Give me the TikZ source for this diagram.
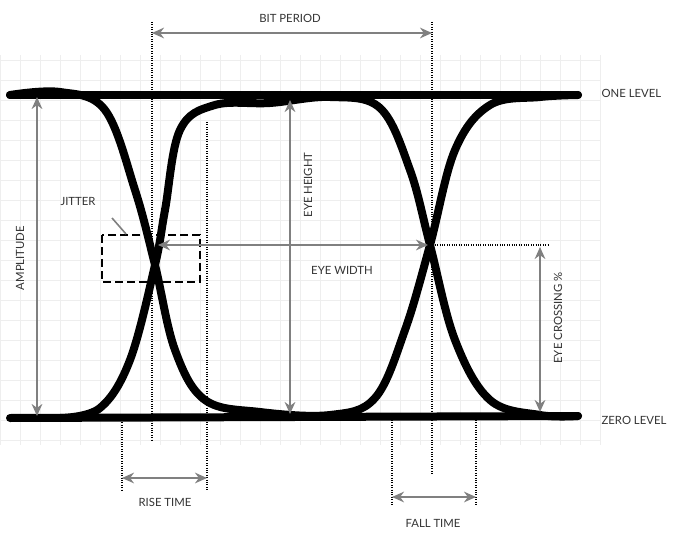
\documentclass[tikz,border=0pt]{standalone}
\usepackage{fontspec}
\setmainfont{Lato}
\usetikzlibrary{arrows.meta}
\definecolor{dimgrey}{RGB}{128,128,128}
\definecolor{gridgrey}{RGB}{238,238,238}
\begin{document}
\begin{tikzpicture}[x=0.75pt,y=-0.75pt,
	trace/.style={line width=6pt,line cap=round,line join=round},
	dim/.style={draw=dimgrey,line width=1.3pt,{Stealth[length=9pt,width=8pt]}-{Stealth[length=9pt,width=8pt]}},
	guide/.style={densely dotted,line width=0.8pt},
	lbl/.style={font=\fontsize{8.5}{10}\selectfont,text=black!80,inner sep=1pt}]
	\useasboundingbox (0,0) rectangle (691,541);

	% faint grid
	\foreach \gx in {0,20,...,600} \draw[gridgrey,line width=0.4pt] (\gx,55) -- (\gx,445);
	\foreach \gy in {60,80,...,440} \draw[gridgrey,line width=0.4pt] (0,\gy) -- (600,\gy);

	% levels and traces
	\draw[trace] (10,95) -- (578,95);
	\draw[trace] (10,418) -- (578,416);
	\draw[trace] plot[smooth,tension=0.6] coordinates {(10,95) (60,92) (105,110) (135,190) (155,265) (175,350) (205,400) (260,412) (330,415) (375,398) (405,330) (430,245) (455,150) (490,105) (540,97) (578,95)};
	\draw[trace] plot[smooth,tension=0.6] coordinates {(60,418) (100,408) (130,360) (155,265) (165,210) (180,130) (215,105) (270,103) (330,97) (380,108) (410,170) (430,245) (455,340) (490,400) (540,415) (578,416)};

	% guides
	\coordinate (bpL) at (152,33);
	\coordinate (bpR) at (432,33);
	\draw[guide] (152,22) -- (152,440);
	\draw[guide] (432,22) -- (432,475);
	\draw[guide] (207,122) -- (207,490);
	\draw[guide] (122,420) -- (122,490);
	\draw[guide] (392,420) -- (392,505);
	\draw[guide] (476,420) -- (476,505);
	\draw[guide] (430,245) -- (548,245);

	% jitter box
	\draw[dashed,line width=1.3pt,dash pattern=on 6pt off 3pt] (102,235) rectangle (200,282);
	\node[lbl] (jitter) at (78,201) {JITTER};
	\draw[dimgrey,line width=1.2pt] (112,218) -- (126,234);

	% dimension arrows
	\coordinate (ampT) at (37,97);   \coordinate (ampB) at (37,416);
	\coordinate (ehT) at (290,100);  \coordinate (ehB) at (290,414);
	\coordinate (ewL) at (158,245);  \coordinate (ewR) at (428,245);
	\coordinate (ecT) at (540,247);  \coordinate (ecB) at (540,412);
	\coordinate (rtL) at (122,478);  \coordinate (rtR) at (207,478);
	\coordinate (ftL) at (392,497);  \coordinate (ftR) at (476,497);
	\draw[dim] (bpL) -- (bpR);
	\draw[dim] (ampT) -- (ampB);
	\draw[dim] (ehT) -- (ehB);
	\draw[dim] (ewL) -- (ewR);
	\draw[dim] (ecT) -- (ecB);
	\draw[dim] (rtL) -- (rtR);
	\draw[dim] (ftL) -- (ftR);

	% labels
	\node[lbl] (bitperiod) at (290,18) {BIT PERIOD};
	\node[lbl,rotate=90] (amplitude) at (20,258) {AMPLITUDE};
	\node[lbl,rotate=90] (eyeheight) at (308,185) {EYE HEIGHT};
	\node[lbl] (eyewidth) at (342,270) {EYE WIDTH};
	\node[lbl,rotate=90] (eyecross) at (558,318) {EYE CROSSING \%};
	\node[lbl] (risetime) at (165,502) {RISE TIME};
	\node[lbl] (falltime) at (433,523) {FALL TIME};
	\node[lbl,anchor=west] (onelevel) at (600,93) {ONE LEVEL};
	\node[lbl,anchor=west] (zerolevel) at (600,420) {ZERO LEVEL};
\end{tikzpicture}
\end{document}
